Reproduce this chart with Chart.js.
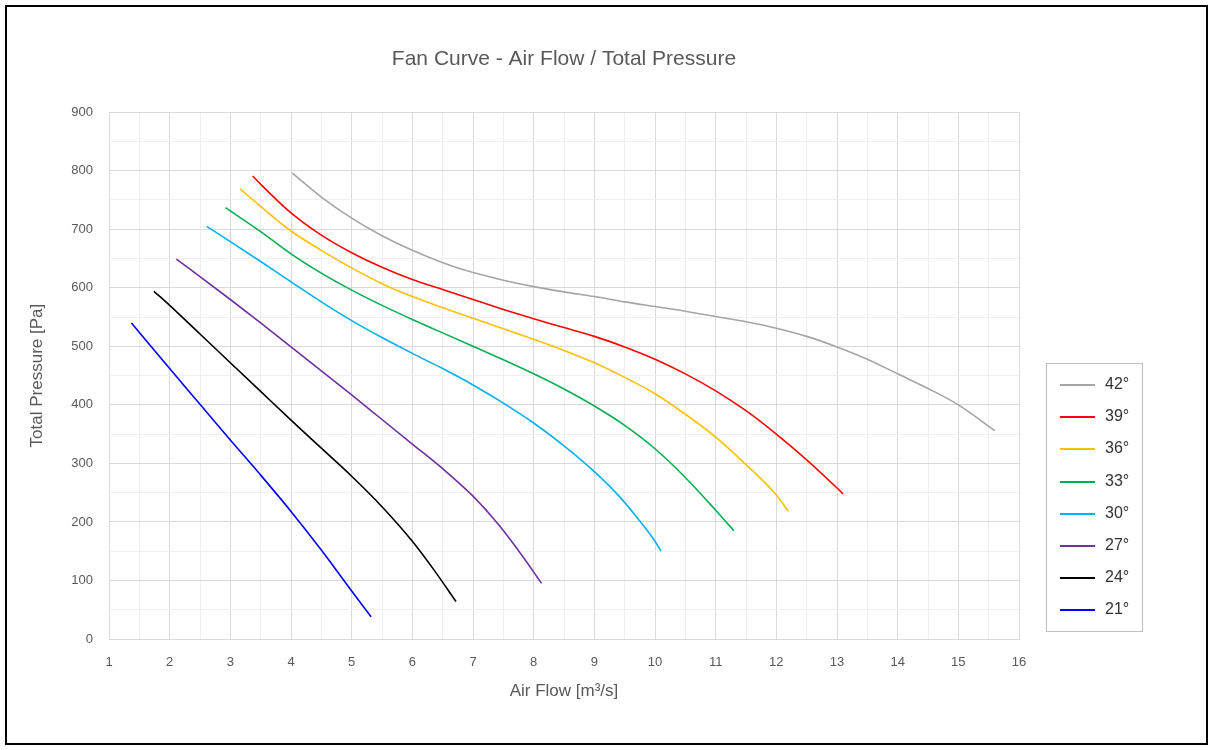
<!DOCTYPE html>
<html>
<head>
<meta charset="utf-8">
<title>Fan Curve</title>
<script src="https://cdn.jsdelivr.net/npm/chart.js@4.4.1/dist/chart.umd.min.js"></script>
<style>
  html, body { margin: 0; padding: 0; background: #fff; }
  #fan-curve { display: block; }
</style>
</head>
<body>
<canvas id="fan-curve" width="1213" height="750"></canvas>
<script>
// blade angles, top of legend first
const angles = ["42°", "39°", "36°", "33°", "30°", "27°", "24°", "21°"];
const colors = ["#a5a5a5", "#ff0000", "#ffc000", "#00b050", "#00b0f0", "#7030a0", "#000000", "#0000ff"];

// air flow [m3/s] and total pressure [Pa]
const flow42 = [4.02, 4.5, 5.0, 5.5, 6.0, 6.5, 7.0, 7.5, 8.0, 8.5, 9.0, 9.5, 10.0, 10.5, 11.0, 11.5, 12.0, 12.5, 13.0, 13.5, 14.0, 14.5, 15.0, 15.6];
const pres42 = [796, 755, 719, 689, 664, 643, 626, 613, 602, 593, 585, 576, 568, 560, 551, 542, 531, 517, 499, 478, 453, 428, 400, 356];

const flow39 = [3.37, 3.5, 4.0, 4.5, 5.0, 5.5, 6.0, 6.5, 7.0, 7.5, 8.0, 8.5, 9.0, 9.5, 10.0, 10.5, 11.0, 11.5, 12.0, 12.5, 13.0, 13.1];
const pres39 = [791, 777, 728, 690, 660, 635, 614, 597, 580, 563, 547, 532, 517, 499, 478, 453, 424, 390, 350, 306, 258, 248];

const flow36 = [3.16, 3.5, 4.0, 4.5, 5.0, 5.5, 6.0, 6.5, 7.0, 7.5, 8.0, 8.5, 9.0, 9.5, 10.0, 10.5, 11.0, 11.5, 12.0, 12.2];
const pres36 = [769, 739, 697, 664, 634, 607, 585, 566, 548, 530, 512, 493, 472, 447, 419, 384, 345, 298, 246, 218];

const flow33 = [2.92, 3.5, 4.0, 4.5, 5.0, 5.5, 6.0, 6.5, 7.0, 7.5, 8.0, 8.5, 9.0, 9.5, 10.0, 10.5, 11.0, 11.3];
const pres33 = [737, 696, 658, 625, 596, 570, 546, 523, 500, 477, 453, 427, 398, 365, 325, 276, 220, 185];

const flow30 = [2.61, 3.0, 3.5, 4.0, 4.5, 5.0, 5.5, 6.0, 6.5, 7.0, 7.5, 8.0, 8.5, 9.0, 9.4, 9.7, 10.0, 10.1];
const pres30 = [705, 679, 645, 610, 576, 544, 515, 488, 462, 434, 403, 369, 330, 286, 245, 208, 167, 150];

const flow27 = [2.11, 2.5, 3.0, 3.5, 4.0, 4.5, 5.0, 5.5, 6.0, 6.5, 7.0, 7.44, 7.82, 8.13];
const pres27 = [649, 619, 580, 540, 499, 458, 417, 375, 333, 291, 244, 193, 141, 95];

const flow24 = [1.74, 2.0, 2.5, 3.0, 3.5, 4.0, 4.5, 5.0, 5.5, 6.0, 6.35, 6.72];
const pres24 = [594, 570, 521, 472, 423, 374, 326, 278, 226, 167, 119, 64];

const flow21 = [1.37, 2.0, 2.5, 3.0, 3.5, 4.0, 4.5, 5.0, 5.32];
const pres21 = [540, 462, 401, 340, 280, 218, 152, 82, 38];

const flows = [flow42, flow39, flow36, flow33, flow30, flow27, flow24, flow21];
const pressures = [pres42, pres39, pres36, pres33, pres30, pres27, pres24, pres21];

const textGray = "#595959";
Chart.defaults.font.family = "'Liberation Sans', Arial, sans-serif";
Chart.defaults.color = textGray;

const datasets = angles.map((label, k) => ({
  label: label,
  data: flows[k].map((x, i) => ({ x: x, y: pressures[k][i] })),
  borderColor: colors[k],
  backgroundColor: colors[k],
  borderWidth: 1.6,
  pointRadius: 0,
  fill: false,
  cubicInterpolationMode: "monotone",
}));

// white page + black outer frame
const framePlugin = {
  id: "frame",
  beforeDraw(chart) {
    const ctx = chart.ctx;
    ctx.save();
    ctx.fillStyle = "#ffffff";
    ctx.fillRect(0, 0, chart.width, chart.height);
    ctx.restore();
  },
  afterDraw(chart) {
    const ctx = chart.ctx;
    ctx.save();
    ctx.strokeStyle = "#000000";
    ctx.lineWidth = 2;
    ctx.strokeRect(6, 6, 1201, 738);
    ctx.restore();
  },
};

// boxed legend on the right, lines instead of swatches
const boxLegend = {
  id: "boxLegend",
  afterDraw(chart) {
    const ctx = chart.ctx;
    const left = 1046.5, top = 363.5, width = 96, height = 268;
    const firstY = 385, step = 32.2;
    ctx.save();
    ctx.strokeStyle = "#bfbfbf";
    ctx.lineWidth = 1;
    ctx.strokeRect(left, top, width, height);
    ctx.font = "16px 'Liberation Sans', Arial, sans-serif";
    ctx.textBaseline = "middle";
    ctx.textAlign = "left";
    chart.data.datasets.forEach((ds, i) => {
      const y = Math.round(firstY + i * step);
      ctx.strokeStyle = ds.borderColor;
      ctx.lineWidth = 2;
      ctx.beginPath();
      ctx.moveTo(1060, y);
      ctx.lineTo(1095, y);
      ctx.stroke();
      ctx.fillStyle = "#333333";
      ctx.fillText(ds.label, 1105, y);
    });
    ctx.restore();
  },
};

new Chart(document.getElementById("fan-curve"), {
  type: "line",
  data: { datasets: datasets },
  plugins: [framePlugin, boxLegend],
  options: {
    responsive: false,
    animation: false,
    devicePixelRatio: 1,
    layout: { padding: { left: 0, right: 194, top: 0, bottom: 41 } },
    plugins: {
      legend: { display: false },
      tooltip: { enabled: false },
      title: {
        display: true,
        fullSize: false,
        text: "Fan Curve - Air Flow / Total Pressure",
        color: textGray,
        font: { size: 21, weight: "normal" },
        padding: { top: 47, bottom: 40 },
      },
    },
    scales: {
      x: {
        type: "linear",
        min: 1,
        max: 16,
        afterFit(scale) {
          scale.height = 70;
        },
        ticks: {
          stepSize: 0.5,
          autoSkip: false,
          maxRotation: 0,
          padding: 16,
          color: textGray,
          font: { size: 13 },
          callback: (v) => (Number.isInteger(v) ? v : ""),
        },
        grid: {
          drawTicks: false,
          color: (c) => (c.tick && Number.isInteger(c.tick.value) ? "#d9d9d9" : "#f0f0f0"),
        },
        border: { color: "#d9d9d9" },
        title: {
          display: true,
          text: "Air Flow [m³/s]",
          color: textGray,
          font: { size: 17 },
          padding: { top: 0, bottom: 7 },
        },
      },
      y: {
        min: 0,
        max: 900,
        afterFit(scale) {
          scale.width = 109;
        },
        ticks: {
          stepSize: 50,
          autoSkip: false,
          padding: 16,
          color: textGray,
          font: { size: 13 },
          callback: (v) => (v % 100 === 0 ? v : ""),
        },
        grid: {
          drawTicks: false,
          color: (c) => (c.tick && c.tick.value % 100 === 0 ? "#d9d9d9" : "#f0f0f0"),
        },
        border: { color: "#d9d9d9" },
        title: {
          display: true,
          text: "Total Pressure [Pa]",
          color: textGray,
          font: { size: 17 },
          padding: { top: 27, bottom: 0 },
        },
      },
    },
  },
});
</script>
</body>
</html>
